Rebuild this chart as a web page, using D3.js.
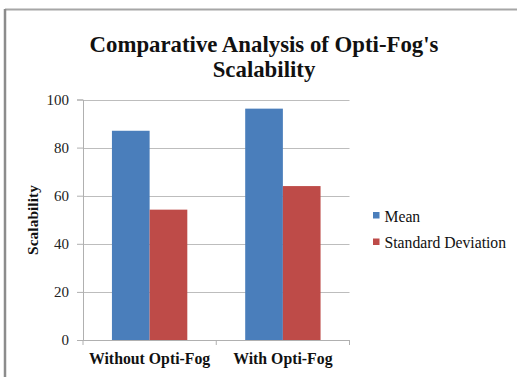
<!DOCTYPE html>
<html><head><meta charset="utf-8">
<script src="https://cdn.jsdelivr.net/npm/d3@7"></script>
<style>body{margin:0;background:#fff;}svg{display:block;}</style>
</head><body>
<script>
const categories = ["Without Opti-Fog", "With Opti-Fog"];
const seriesNames = ["Mean", "Standard Deviation"];
const meanValues = [87, 96.2];
const sdValues = [54.2, 64];
const yTicks = [0, 20, 40, 60, 80, 100];
const colors = ["#4a7ebb", "#be4b48"];

const W = 517, H = 377;
const svg = d3.select("body").append("svg").attr("width", W).attr("height", H);
const font = "'Liberation Serif','Times New Roman',serif";

// frame
svg.append("line").attr("x1",5).attr("x2",W).attr("y1",9.5).attr("y2",9.5).attr("stroke","#a6a6a6").attr("stroke-width",2);
svg.append("line").attr("x1",5).attr("x2",5).attr("y1",9).attr("y2",H).attr("stroke","#8c8c8c").attr("stroke-width",2.5);

const x0 = 83, x1 = 349.5, yTop = 99.5, yBot = 340;
const x = d3.scaleBand().domain(categories).range([x0, x1]).paddingInner(0.4345).paddingOuter(0.2172);
const xs = d3.scaleBand().domain(seriesNames).range([0, x.bandwidth()]);
const y = d3.scaleLinear().domain([0, 100]).range([yBot, yTop]);

// gridlines
svg.append("g").selectAll("line").data(yTicks.filter(d=>d>0)).join("line")
  .attr("x1", x0).attr("x2", x1).attr("y1", d=>Math.round(y(d))+0.5).attr("y2", d=>Math.round(y(d))+0.5)
  .attr("stroke", "#bdbdbd").attr("stroke-width", 1.2);

// bars
const data = categories.map((c,i)=>({cat:c, vals:[meanValues[i], sdValues[i]]}));
const g = svg.append("g");
data.forEach(d=>{
  d.vals.forEach((v,j)=>{
    g.append("rect").attr("x", x(d.cat)+xs(seriesNames[j])).attr("width", xs.bandwidth())
     .attr("y", y(v)).attr("height", y(0)-y(v)).attr("fill", colors[j]);
  });
});

// y axis
const yAxis = d3.axisLeft(y).tickValues(yTicks).tickSize(6).tickPadding(8);
const ya = svg.append("g").attr("transform", `translate(${x0},0)`).call(yAxis);
ya.select(".domain").attr("stroke","#b0b0b0");
ya.selectAll(".tick line").attr("stroke","#b0b0b0");
ya.selectAll(".tick text").attr("font-family", font).attr("font-size", 15).attr("fill","#222");

// x axis
const xa = svg.append("g").attr("transform", `translate(0,${yBot})`);
xa.append("line").attr("x1", x0-6).attr("x2", x1).attr("y1",0.5).attr("y2",0.5).attr("stroke","#b0b0b0");
const bounds = [x0, (x0+x1)/2, x1];
xa.selectAll("line.t").data(bounds).join("line").attr("class","t")
  .attr("x1", d=>d).attr("x2", d=>d).attr("y1", 0).attr("y2", 5).attr("stroke","#b0b0b0");
xa.selectAll("text").data(categories).join("text")
  .attr("x", d=>x(d)+x.bandwidth()/2).attr("y", 23.5).attr("text-anchor","middle")
  .attr("font-family", font).attr("font-weight","bold").attr("font-size", 15.8).attr("fill","#111")
  .text(d=>d);

// y title
svg.append("text").attr("transform","translate(38,220) rotate(-90)").attr("text-anchor","middle")
  .attr("font-family", font).attr("font-weight","bold").attr("font-size", 15.5).attr("fill","#111")
  .text("Scalability");

// title
const title = svg.append("text").attr("text-anchor","middle").attr("font-family", font)
  .attr("font-weight","bold").attr("font-size", 22.8).attr("fill","#111");
title.append("tspan").attr("x", 264).attr("y", 52).text("Comparative Analysis of Opti-Fog's");
title.append("tspan").attr("x", 264).attr("y", 77).text("Scalability");

// legend
const leg = svg.append("g");
seriesNames.forEach((s,i)=>{
  const ly = 221.5 + i*26.5;
  leg.append("rect").attr("x", 373).attr("y", ly-9.5).attr("width", 6.5).attr("height", 6.5).attr("fill", colors[i]);
  leg.append("text").attr("x", 384.5).attr("y", ly).attr("font-family", font).attr("font-size", 15.7).attr("fill","#111").text(s);
});
</script>
</body></html>
